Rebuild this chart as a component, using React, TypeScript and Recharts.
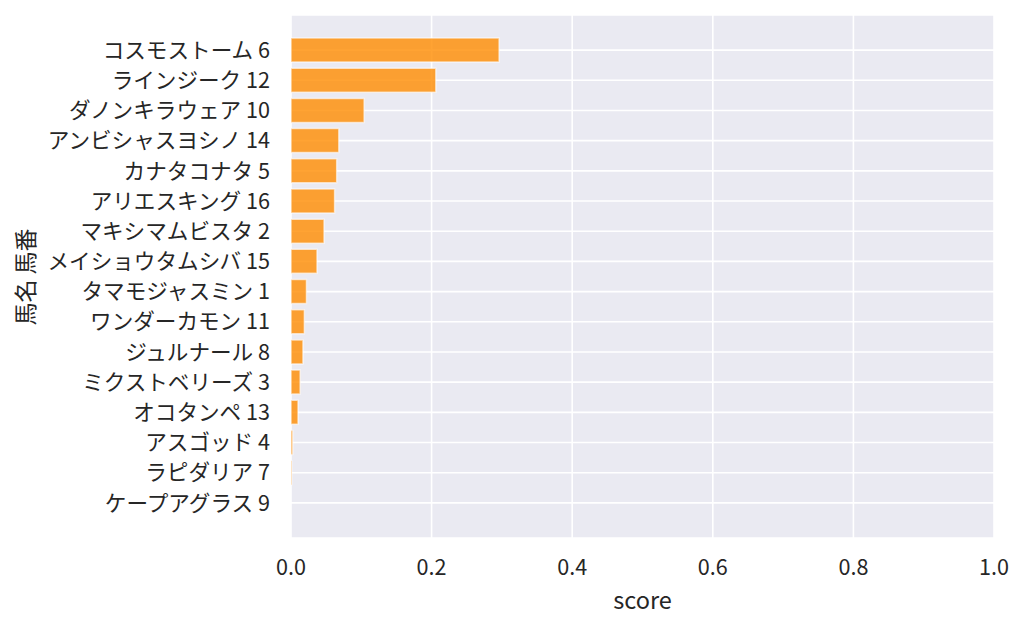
import React from "react";
import {
  BarChart,
  Bar,
  XAxis,
  YAxis,
  CartesianGrid,
  Label,
} from "recharts";

// horse names + numbers, top to bottom
const horses = [
  "コスモストーム 6",
  "ラインジーク 12",
  "ダノンキラウェア 10",
  "アンビシャスヨシノ 14",
  "カナタコナタ 5",
  "アリエスキング 16",
  "マキシマムビスタ 2",
  "メイショウタムシバ 15",
  "タマモジャスミン 1",
  "ワンダーカモン 11",
  "ジュルナール 8",
  "ミクストベリーズ 3",
  "オコタンペ 13",
  "アスゴッド 4",
  "ラピダリア 7",
  "ケープアグラス 9",
];

const scores = [
  0.296, 0.206, 0.104, 0.068, 0.065, 0.062, 0.047, 0.037, 0.022, 0.019,
  0.017, 0.013, 0.01, 0.0025, 0.001, 0,
];

const xTicks = [0, 0.2, 0.4, 0.6, 0.8, 1.0];

const data = horses.map((name, i) => ({ name, score: scores[i] }));

const FONT = "'Noto Sans CJK JP', 'Noto Sans', sans-serif";
const TEXT = "#262626";

export default function App() {
  return (
    <div style={{ position: "fixed", left: 0, top: 0, background: "#fff" }}>
      <BarChart
        width={1024}
        height={627}
        data={data}
        layout="vertical"
        margin={{ top: 15, right: 30, bottom: 0, left: 0 }}
        barCategoryGap="10%"
      >
        <CartesianGrid fill="#EAEAF2" stroke="#ffffff" strokeWidth={1.6} />
        <XAxis
          type="number"
          domain={[0, 1]}
          ticks={xTicks}
          tickFormatter={(v: number) => v.toFixed(1)}
          axisLine={false}
          tickLine={false}
          tickSize={0}
          tickMargin={22}
          height={89}
          tick={{ fontSize: 21.6, fill: TEXT, fontFamily: FONT }}
        >
          <Label
            value="score"
            position="insideBottom"
            offset={18}
            style={{ fontSize: 23.5, fill: TEXT, fontFamily: FONT }}
          />
        </XAxis>
        <YAxis
          type="category"
          dataKey="name"
          width={291}
          axisLine={false}
          tickLine={false}
          tickSize={0}
          tickMargin={21}
          interval={0}
          padding={{ top: 20, bottom: 20 }}
          tick={{ fontSize: 21.6, fill: TEXT, fontFamily: FONT }}
          label={{
            content: () => (
              <text
                x={24}
                y={277}
                transform="rotate(-90 24 277)"
                textAnchor="middle"
                dominantBaseline="central"
                style={{ fontSize: 23, fill: TEXT, fontFamily: FONT }}
              >
                馬名 馬番
              </text>
            ),
          }}
        />
        <Bar
          dataKey="score"
          fill="#ff8c00"
          fillOpacity={0.8}
          stroke="#ffffff"
          strokeOpacity={0.6}
          strokeWidth={1.5}
          isAnimationActive={false}
        />
      </BarChart>
    </div>
  );
}
